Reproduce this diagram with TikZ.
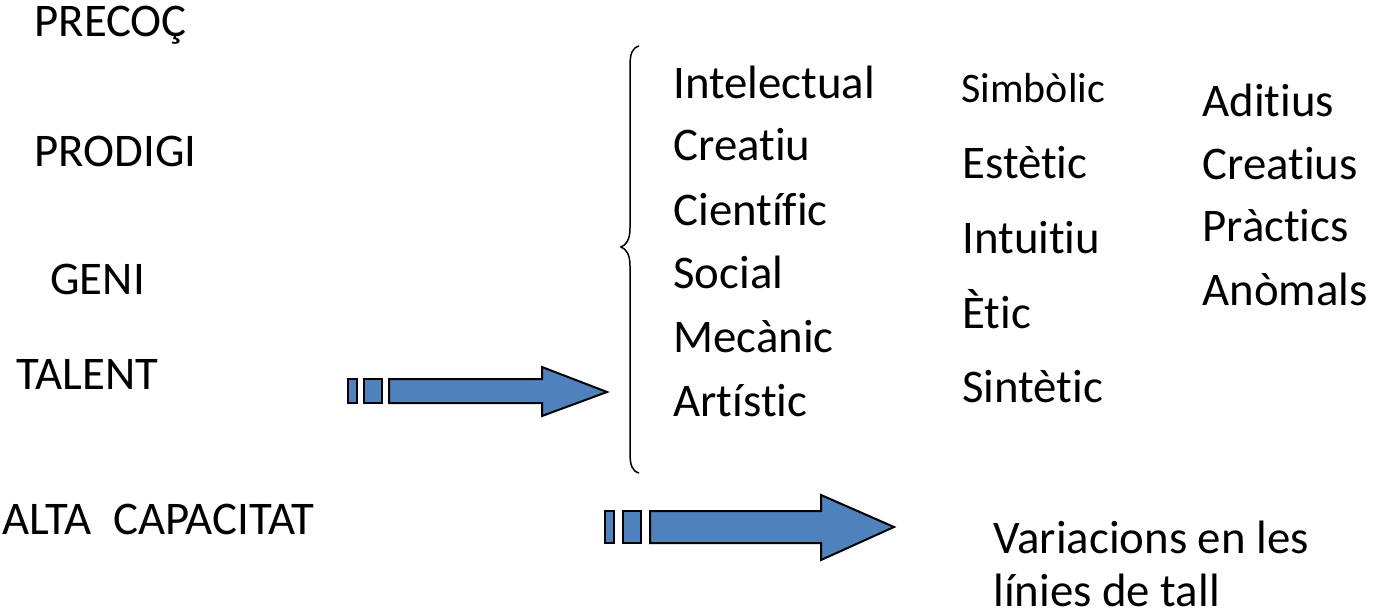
\documentclass[tikz,border=0pt]{standalone}
\usepackage{fontspec}
\setmainfont{Carlito}[Ligatures={NoCommon}]
\definecolor{arrowblue}{HTML}{4F81BD}
\begin{document}
\begin{tikzpicture}[x=0.5pt,y=-0.5pt,
  lbl/.style={anchor=base west,inner sep=0pt,font=\fontsize{23.4}{28}\selectfont},
  small/.style={anchor=base west,inner sep=0pt,font=\fontsize{21}{25}\selectfont},
  blockarrow/.style={fill=arrowblue,draw=black,line width=1pt,line join=miter},
  brace/.style={draw=black,line width=0.75pt}]
\useasboundingbox (0,0) rectangle (1376,615);
% left column
\node[lbl] (precoc) at (34,37) {PRECOÇ};
\node[lbl] (prodigi) at (34,166) {PRODIGI};
\node[lbl] (geni) at (50,294) {GENI};
\node[lbl] (talent) at (16,389) {TALENT};
\node[lbl] (alta) at (2,534) {ALTA\ \ CAPACITAT};
% arrow 1
\draw[blockarrow] (348,379) rectangle (357,403);
\draw[blockarrow] (364,379) rectangle (382,403);
\draw[blockarrow] (389,379) -- (542,379) -- (542,367) -- (607,392) -- (542,416) -- (542,403) -- (389,403) -- cycle;
% arrow 2
\draw[blockarrow] (605,511) rectangle (614,543);
\draw[blockarrow] (623,511) rectangle (641,543);
\draw[blockarrow] (650,511) -- (821,511) -- (821,495) -- (894,527) -- (821,560) -- (821,543) -- (650,543) -- cycle;
% brace
\coordinate (btop) at (639,46);
\coordinate (bmid) at (621,247);
\coordinate (bbot) at (639,473);
\draw[brace] (btop) .. controls (632,48) and (630,54) .. (630,66)
  -- (630,228) .. controls (630,240) and (626,245) .. (bmid)
  .. controls (626,249) and (630,254) .. (630,266)
  -- (630,453) .. controls (630,465) and (632,471) .. (bbot);
% column 2
\node[lbl] (intel) at (673,98) {Intelectual};
\node[lbl] (creatiu) at (673,161) {Creatiu};
\node[lbl] (cientific) at (673,225) {Científic};
\node[lbl] (social) at (673,288) {Social};
\node[lbl] (mecanic) at (673,352) {Mecànic};
\node[lbl] (artistic) at (673,416) {Artístic};
% column 3
\node[small] (simbolic) at (961,103) {Simbòlic};
\node[lbl] (estetic) at (962,178) {Estètic};
\node[lbl] (intuitiu) at (962,253) {Intuitiu};
\node[lbl] (etic) at (962,328) {Ètic};
\node[lbl] (sintetic) at (962,402) {Sintètic};
% column 4
\node[lbl] (aditius) at (1202,117) {Aditius};
\node[lbl] (creatius) at (1202,179) {Creatius};
\node[lbl] (practics) at (1202,242) {Pràctics};
\node[lbl] (anomals) at (1202,305) {Anòmals};
% bottom text
\node[lbl] (var1) at (993,553) {Variacions en les};
\node[lbl] (var2) at (993,606) {línies de tall};
\end{tikzpicture}
\end{document}
